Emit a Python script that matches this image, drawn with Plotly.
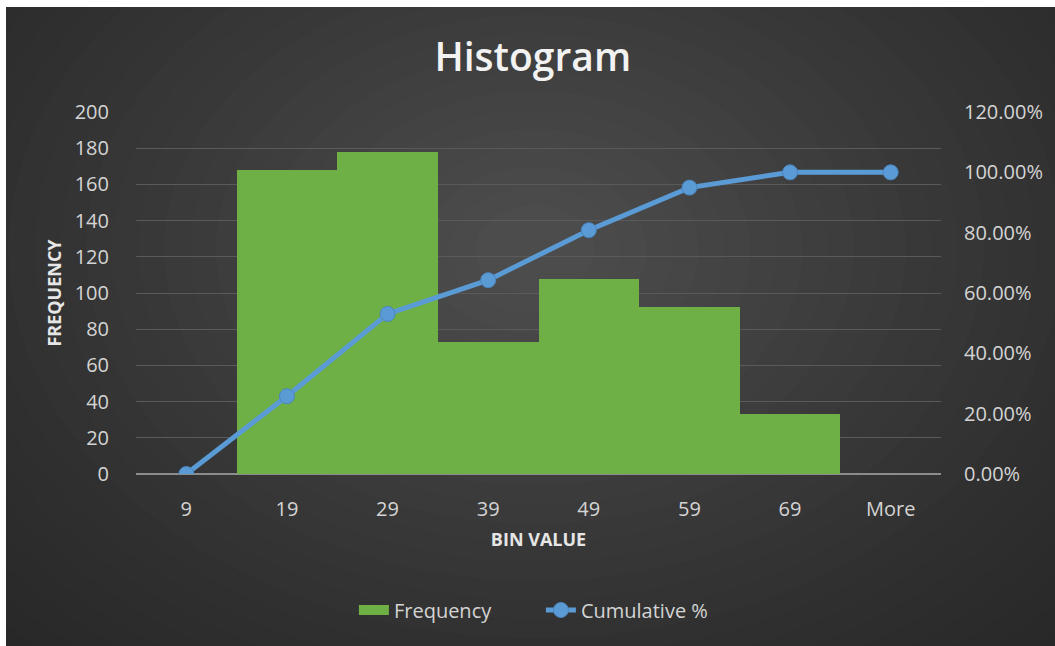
import plotly.graph_objects as go

# Histogram bins and results
bins = ["9", "19", "29", "39", "49", "59", "69", "More"]
frequency = [0, 168, 178, 73, 108, 92, 33, 0]
cumulative_pct = [0.0, 0.2577, 0.5307, 0.6426, 0.8083, 0.9494, 1.0, 1.0]

W, H = 1055, 646
# plot area in pixels
PL, PR, PT, PB = 136, 941, 112, 474

def px_x(p):
    return (p - PL) / (PR - PL)

def px_y(p):
    return (PB - p) / (PB - PT)

def lerp_color(c0, c1, t):
    return "rgb({},{},{})".format(*[round(a + (b - a) * t) for a, b in zip(c0, c1)])

FONT = "Open Sans"
TXT = "#d4d4d4"
GREEN = "#6fb046"
BLUE = "#5b9bd5"

fig = go.Figure()

fig.add_trace(go.Bar(
    x=bins, y=frequency, name="Frequency",
    marker=dict(color=GREEN, line=dict(width=0)),
    width=1.0, yaxis="y", showlegend=False, legendgroup="freq",
))
# wide legend swatch for the bars
fig.add_trace(go.Scatter(
    x=[None], y=[None], name="Frequency", mode="lines",
    line=dict(color=GREEN, width=14), legendgroup="freq",
))

fig.add_trace(go.Scatter(
    x=bins, y=cumulative_pct, name="Cumulative %",
    mode="lines+markers",
    line=dict(color=BLUE, width=5),
    marker=dict(color=BLUE, size=15, line=dict(color="#4a86bf", width=1)),
    yaxis="y2",
))

# soft radial background built from nested ellipses
shapes = []
dark, light = (40, 40, 40), (76, 76, 76)
cx, cy = 535, 250
N = 28
for i in range(N):
    t = i / (N - 1)
    rx = 760 * (1 - t) + 60 * t
    ry = 560 * (1 - t) + 45 * t
    shapes.append(dict(
        type="circle", xref="paper", yref="paper", layer="below",
        x0=px_x(cx - rx), x1=px_x(cx + rx),
        y0=px_y(cy + ry), y1=px_y(cy - ry),
        fillcolor=lerp_color(dark, light, t ** 1.2), line=dict(width=0),
    ))
# light frame along the top and left edges
shapes.append(dict(type="rect", xref="paper", yref="paper", layer="below",
                   x0=px_x(0), x1=px_x(W), y0=px_y(7), y1=px_y(-5),
                   fillcolor="#ffffff", line=dict(width=0)))
shapes.append(dict(type="rect", xref="paper", yref="paper", layer="below",
                   x0=px_x(-5), x1=px_x(6), y0=px_y(H + 5), y1=px_y(-5),
                   fillcolor="#ffffff", line=dict(width=0)))

fig.update_layout(
    width=W, height=H,
    margin=dict(l=PL, r=W - PR, t=PT, b=H - PB, pad=0),
    paper_bgcolor="#2a2a2a",
    plot_bgcolor="rgba(0,0,0,0)",
    font=dict(family=FONT, color=TXT, size=20),
    shapes=shapes,
    bargap=0,
    title=dict(text="Histogram", x=0.505, xanchor="center", y=1 - 57 / H, yanchor="middle",
               font=dict(family=FONT, size=39, color="#f2f2f2", weight=600)),
    xaxis=dict(
        type="category", showgrid=False, zeroline=False, showline=False,
        ticks="outside", ticklen=17, tickcolor="rgba(0,0,0,0)",
        tickfont=dict(size=20, color=TXT),
        title=dict(text="BIN VALUE", standoff=12,
                   font=dict(size=18, color="#e6e6e6", weight="bold")),
    ),
    yaxis=dict(
        range=[0, 200], dtick=20, showgrid=True, gridcolor="#5a5a5a", gridwidth=1,
        zeroline=True, zerolinecolor="#8c8c8c", zerolinewidth=2, showline=False,
        ticks="outside", ticklen=22, tickcolor="rgba(0,0,0,0)",
        tickfont=dict(size=20, color=TXT),
        title=dict(text="FREQUENCY", standoff=8,
                   font=dict(size=18, color="#e6e6e6", weight="bold")),
    ),
    yaxis2=dict(
        range=[0, 1.2], dtick=0.2, tickformat=".2%", overlaying="y", side="right",
        showgrid=False, zeroline=False, showline=False,
        ticks="outside", ticklen=18, tickcolor="rgba(0,0,0,0)",
        tickfont=dict(size=20, color=TXT),
    ),
    legend=dict(
        orientation="h", x=0.503, xanchor="center", y=px_y(610), yanchor="middle",
        font=dict(size=20, color=TXT), bgcolor="rgba(0,0,0,0)",
        traceorder="normal", itemwidth=30,
        entrywidth=142, entrywidthmode="pixels",
    ),
    showlegend=True,
)

fig.write_html("out.html")
